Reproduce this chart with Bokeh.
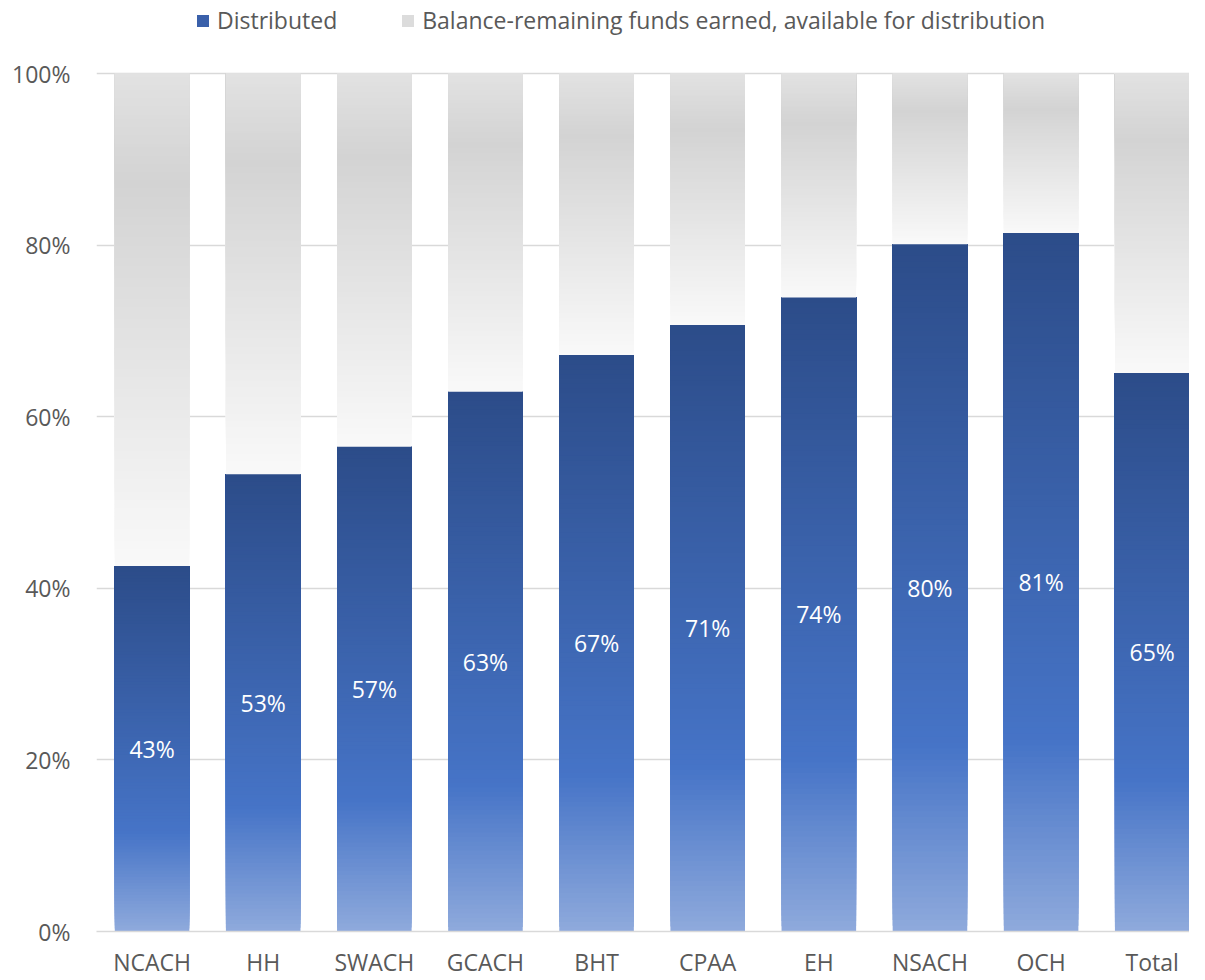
import numpy as np
from bokeh.plotting import figure
from bokeh.models import ColumnDataSource, Range1d, FixedTicker, Legend, LegendItem
from bokeh.core.properties import value
from bokeh.embed import file_html
from bokeh.resources import INLINE

# ---- data ----
categories = ["NCACH", "HH", "SWACH", "GCACH", "BHT", "CPAA", "EH", "NSACH", "OCH", "Total"]
distributed = [42.6, 53.3, 56.5, 62.9, 67.2, 70.7, 73.9, 80.1, 81.4, 65.1]
balance = [round(100 - d, 1) for d in distributed]
data_labels = ["43%", "53%", "57%", "63%", "67%", "71%", "74%", "80%", "81%", "65%"]
y_ticks = [0, 20, 40, 60, 80, 100]
y_tick_labels = ["0%", "20%", "40%", "60%", "80%", "100%"]
series_names = ["Distributed", "Balance-remaining funds earned, available for distribution"]

# ---- styles ----
FONT = "Open Sans"
TXT = "#595959"
GRID = "#d9d9d9"
BLUE_STOPS = [(0.0, (44, 76, 137)), (0.73, (70, 116, 199)), (1.0, (143, 170, 220))]
GRAY_STOPS = [(0.0, (226, 226, 226)), (0.22, (211, 211, 211)), (1.0, (249, 249, 249))]
N_SLICES = 120
BAR_W = 0.671


def grad_color(stops, t):
    for (p0, c0), (p1, c1) in zip(stops[:-1], stops[1:]):
        if t <= p1:
            f = (t - p0) / (p1 - p0) if p1 > p0 else 0
            r, g, b = (int(round(a + (bb - a) * f)) for a, bb in zip(c0, c1))
            return "#%02x%02x%02x" % (r, g, b)
    r, g, b = stops[-1][1]
    return "#%02x%02x%02x" % (r, g, b)


xs = [i + 0.5 for i in range(len(categories))]

# each slice spans from its own bottom up to the segment top; later (higher)
# slices paint over, so there are no seams between slices
L, R, B, T, C = [], [], [], [], []
for x, d, bal in zip(xs, distributed, balance):
    for lo, hi, stops in ((0.0, d, BLUE_STOPS), (d, d + bal, GRAY_STOPS)):
        edges = np.linspace(lo, hi, N_SLICES + 1)
        for k in range(N_SLICES):
            t = 1.0 - (k + 0.5) / N_SLICES  # fraction from top of segment
            L.append(x - BAR_W / 2)
            R.append(x + BAR_W / 2)
            B.append(edges[k])
            T.append(hi)
            C.append(grad_color(stops, t))

src = ColumnDataSource(dict(left=L, right=R, bottom=B, top=T, color=C))

W, H = 1189, 980
frame_left, frame_bottom_border = 96, 49
frame_h = H - frame_bottom_border
top_px = 73  # pixels from frame top to the 100% line
px_per_unit = (frame_h - top_px) / 100
y_end = 100 + top_px / px_per_unit
frame_w = W - frame_left
cat_px = frame_w / (len(categories) - 0.5 + BAR_W / 2)
x_end = frame_w / cat_px

p = figure(width=W, height=H, output_backend="svg", toolbar_location=None,
           x_range=Range1d(0, x_end), y_range=Range1d(0, y_end),
           min_border_left=frame_left, min_border_right=0, min_border_top=0,
           min_border_bottom=frame_bottom_border)
p.outline_line_color = None
p.background_fill_color = "white"

p.quad(left="left", right="right", bottom="bottom", top="top", fill_color="color",
       line_color=None, source=src)

# data labels
lab_src = ColumnDataSource(dict(x=xs, y=[d / 2 for d in distributed], t=data_labels))
p.text(x="x", y="y", text="t", source=lab_src, text_color="white",
       text_font=value(FONT), text_font_size="23px", text_align="center",
       text_baseline="middle")

# grid
p.xgrid.visible = False
p.ygrid.ticker = FixedTicker(ticks=y_ticks)
p.ygrid.grid_line_color = GRID
p.ygrid.grid_line_width = 1.5

# y axis
p.yaxis.ticker = FixedTicker(ticks=y_ticks)
p.yaxis.major_label_overrides = {t: l for t, l in zip(y_ticks, y_tick_labels)}
p.yaxis.axis_line_color = None
p.yaxis.major_tick_line_color = None
p.yaxis.minor_tick_line_color = None
p.yaxis.major_label_standoff = 20
p.yaxis.major_label_text_font = FONT
p.yaxis.major_label_text_font_size = "23px"
p.yaxis.major_label_text_color = TXT

# x axis
p.xaxis.ticker = FixedTicker(ticks=xs)
p.xaxis.major_label_overrides = {x: c for x, c in zip(xs, categories)}
p.xaxis.axis_line_color = GRID
p.xaxis.axis_line_width = 1.5
p.xaxis.major_tick_line_color = None
p.xaxis.minor_tick_line_color = None
p.xaxis.major_label_standoff = 8
p.xaxis.major_label_text_font = FONT
p.xaxis.major_label_text_font_size = "23px"
p.xaxis.major_label_text_color = TXT

# legend (swatch renderers hold one NaN row so they draw nothing on the plot)
dummy = dict(left=[np.nan], right=[np.nan], bottom=[np.nan], top=[np.nan])
r1 = p.quad(left="left", right="right", bottom="bottom", top="top",
            source=ColumnDataSource(dummy), fill_color="#3a60aa", line_color=None)
r2 = p.quad(left="left", right="right", bottom="bottom", top="top",
            source=ColumnDataSource(dummy), fill_color="#dcdcdc", line_color=None)
legend = Legend(items=[LegendItem(label=series_names[0], renderers=[r1]),
                       LegendItem(label=series_names[1], renderers=[r2])],
                orientation="horizontal", location=(99, frame_h - 36),
                glyph_width=15, glyph_height=15, label_standoff=7, spacing=63,
                padding=0, margin=0, background_fill_alpha=0, border_line_alpha=0,
                label_text_font=FONT, label_text_font_size="23px",
                label_text_color=TXT)
p.add_layout(legend)

open("out.html", "w").write(file_html(p, INLINE))
